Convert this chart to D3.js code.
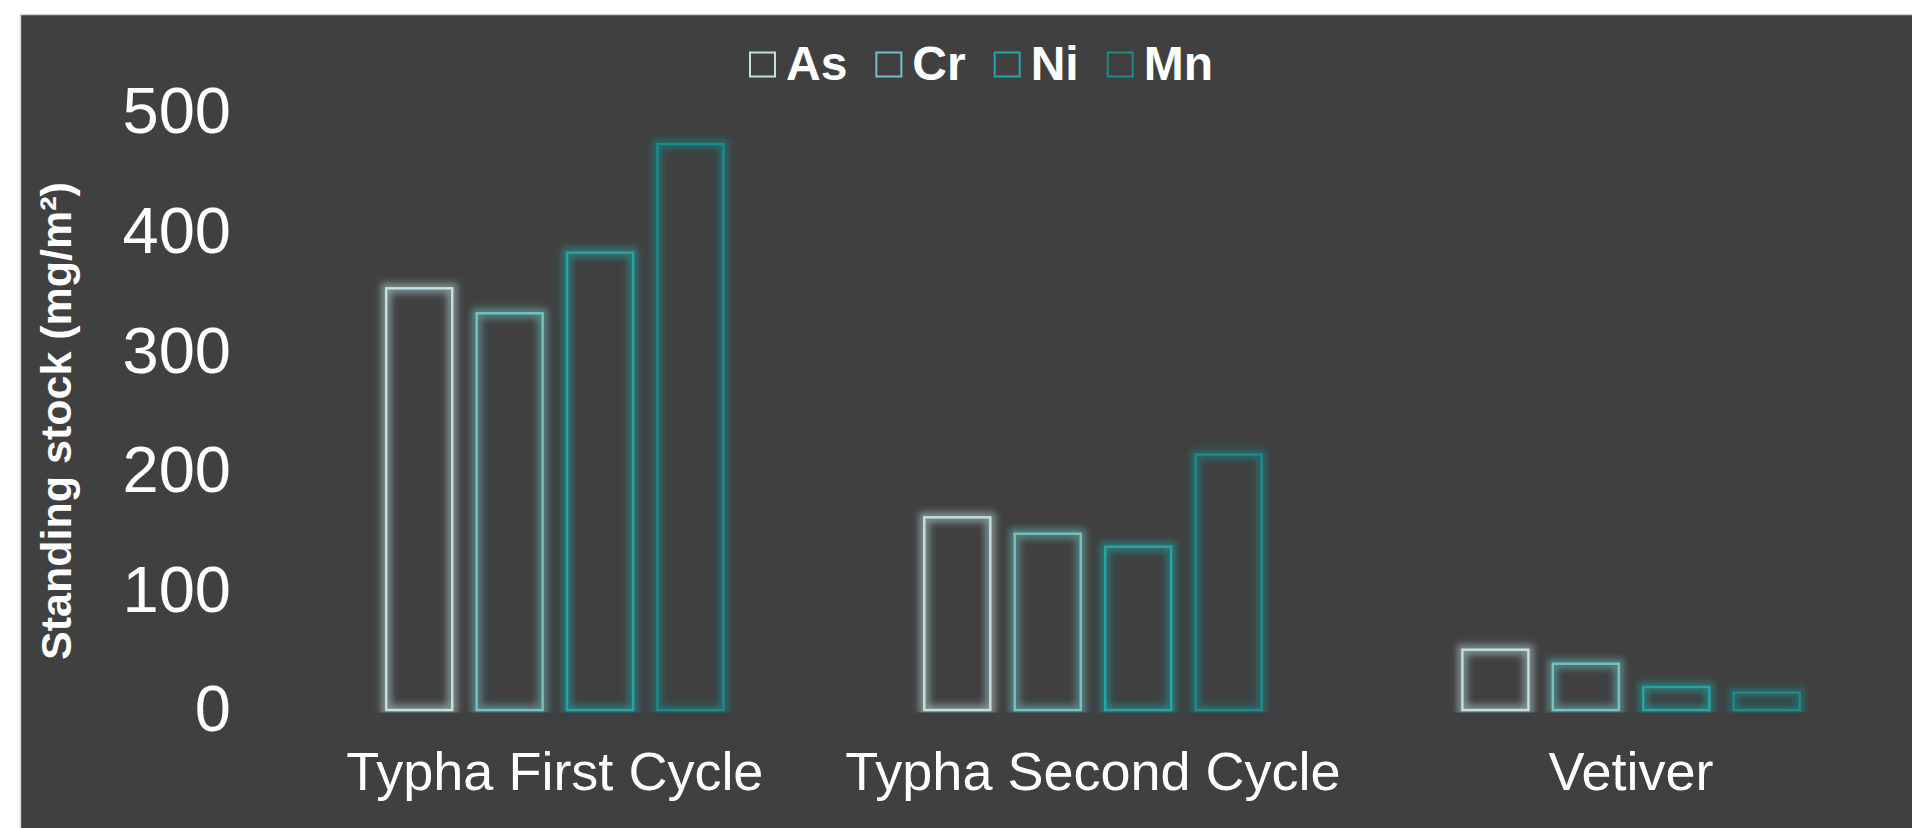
<!DOCTYPE html>
<html>
<head>
<meta charset="utf-8">
<script src="https://cdn.jsdelivr.net/npm/d3@7"></script>
<style>
  html, body { margin: 0; padding: 0; background: #ffffff; }
  svg { display: block; }
  text { font-family: "Liberation Sans", Arial, sans-serif; fill: #ffffff; }
</style>
</head>
<body>
<svg id="chart" width="1912" height="828"></svg>
<script>
const categories = ["Typha First Cycle", "Typha Second Cycle", "Vetiver"];
const seriesNames = ["As", "Cr", "Ni", "Mn"];
const seriesColors = ["#c2e2e2", "#72c3c3", "#22a7a7", "#198c8c"];
const valuesAs = [352.6, 161.1, 50.4];
const valuesCr = [331.7, 147.4, 38.7];
const valuesNi = [382.4, 136.5, 19.2];
const valuesMn = [473.2, 213.5, 14.5];
const yTicks = [0, 100, 200, 300, 400, 500];
const yTitle = "Standing stock (mg/m²)";

const seriesValues = [valuesAs, valuesCr, valuesNi, valuesMn];
const data = categories.map((c, i) => ({
  category: c,
  values: seriesNames.map((s, j) => ({ key: s, value: seriesValues[j][i], color: seriesColors[j] }))
}));

const svg = d3.select("#chart");

// chart background
svg.append("rect")
  .attr("x", 20.5).attr("y", 14.5)
  .attr("width", 1920).attr("height", 840)
  .attr("fill", "#404040")
  .attr("stroke", "#d4d4d4").attr("stroke-width", 1.5);

const defs = svg.append("defs");
const f = defs.append("filter").attr("id", "glow")
  .attr("filterUnits", "userSpaceOnUse")
  .attr("x", 0).attr("y", 0).attr("width", 1912).attr("height", 828);
f.append("feGaussianBlur").attr("in", "SourceGraphic").attr("stdDeviation", 3.5);

defs.append("clipPath").attr("id", "plotclip")
  .append("rect").attr("x", 0).attr("y", 0).attr("width", 1912).attr("height", 712.5);

const x0 = d3.scaleBand().domain(categories).range([285.8, 1900.1]).padding(0);
const x1 = d3.scaleBand().domain(seriesNames).range([0, x0.bandwidth()])
  .paddingInner(0.27).paddingOuter(1.11);
const y = d3.scaleLinear().domain([0, 500]).range([710, 112]);

// Y axis
const yAxis = svg.append("g")
  .attr("transform", "translate(231,0)")
  .call(d3.axisLeft(y).tickValues(yTicks).tickSize(0).tickPadding(0).tickFormat(d3.format("d")));
yAxis.select(".domain").remove();
yAxis.selectAll("text")
  .attr("font-size", 65)
  .attr("fill", "#ffffff");

// X axis
const xAxis = svg.append("g")
  .attr("transform", "translate(0,710)")
  .call(d3.axisBottom(x0).tickSize(0).tickPadding(42));
xAxis.select(".domain").remove();
xAxis.selectAll("text")
  .attr("font-size", 54)
  .attr("fill", "#ffffff");

// Bars
const groups = svg.append("g").attr("clip-path", "url(#plotclip)")
  .selectAll("g.grp").data(data).join("g")
  .attr("class", "grp")
  .attr("transform", d => `translate(${x0(d.category)},0)`);

groups.selectAll("rect.glow").data(d => d.values).join("rect")
  .attr("class", "glow")
  .attr("x", d => x1(d.key))
  .attr("y", d => y(d.value))
  .attr("width", x1.bandwidth())
  .attr("height", d => y(0) - y(d.value))
  .attr("fill", "none")
  .attr("stroke", d => d.color)
  .attr("stroke-width", 10)
  .attr("stroke-opacity", 0.5)
  .attr("filter", "url(#glow)");

groups.selectAll("rect.bar").data(d => d.values).join("rect")
  .attr("class", "bar")
  .attr("x", d => x1(d.key))
  .attr("y", d => y(d.value))
  .attr("width", x1.bandwidth())
  .attr("height", d => y(0) - y(d.value))
  .attr("fill", "none")
  .attr("stroke", d => d.color)
  .attr("stroke-width", 2.4);

// Y title
svg.append("text")
  .attr("transform", "translate(71,421) rotate(-90)")
  .attr("text-anchor", "middle")
  .attr("font-size", 43)
  .attr("font-weight", "bold")
  .text(yTitle);

// Legend
const legend = svg.append("g");
let lx = 749;
seriesNames.forEach((s, i) => {
  legend.append("rect")
    .attr("x", lx + 1).attr("y", 52.5)
    .attr("width", 25).attr("height", 24)
    .attr("fill", "none")
    .attr("stroke", seriesColors[i]).attr("stroke-width", 2);
  const t = legend.append("text")
    .attr("x", lx + 37).attr("y", 80)
    .attr("font-size", 48).attr("font-weight", "bold")
    .text(s);
  const w = t.node().getComputedTextLength();
  lx = lx + 37 + w + 28;
});
</script>
</body>
</html>
